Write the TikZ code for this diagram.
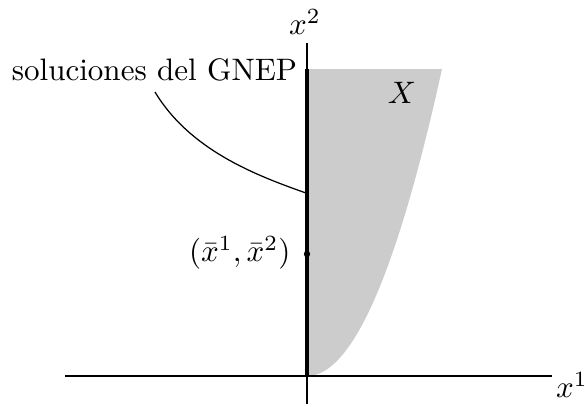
\documentclass[tikz,border=0pt]{standalone}
\begin{document}
\begin{tikzpicture}[x=0.322pt,y=-0.322pt,
  axis/.style={line width=0.4pt},
  solline/.style={line width=1.1pt},
  region/.style={fill=black!20},
  lbl/.style={inner sep=0pt}]
\useasboundingbox (0,0) rectangle (585,406);
% region X
\fill[region] (307,376) -- plot[domain=0:135,samples=80] ({307+\x},{376-307*(\x/135)^2}) -- (307,69) -- cycle;
% axes
\coordinate (hl) at (65,376);
\coordinate (hr) at (552,376);
\coordinate (vb) at (307,404);
\coordinate (vt) at (307,43);
\draw[axis] (hl) -- (hr);
\draw[axis] (vb) -- (vt);
% solution set
\coordinate (s0) at (307,376);
\coordinate (s1) at (307,69);
\draw[solline] (s0) -- (s1);
\coordinate (p) at (307,254);
\fill (p) circle[radius=3.2];
% labels
\node[lbl] (x1) at (572,385) {$x^1$};
\node[lbl] (x2) at (305,22) {$x^2$};
\node[lbl] (X) at (402,93) {$X$};
\node[lbl,anchor=east] (pl) at (291,253) {$(\bar{x}^1,\bar{x}^2)$};
\node[lbl] (sol) at (154.5,70) {soluciones del GNEP};
\coordinate (a0) at (155,92);
\coordinate (a1) at (306,193);
\draw[axis] (a0) .. controls (190,150) and (255,175) .. (a1);
\end{tikzpicture}
\end{document}
